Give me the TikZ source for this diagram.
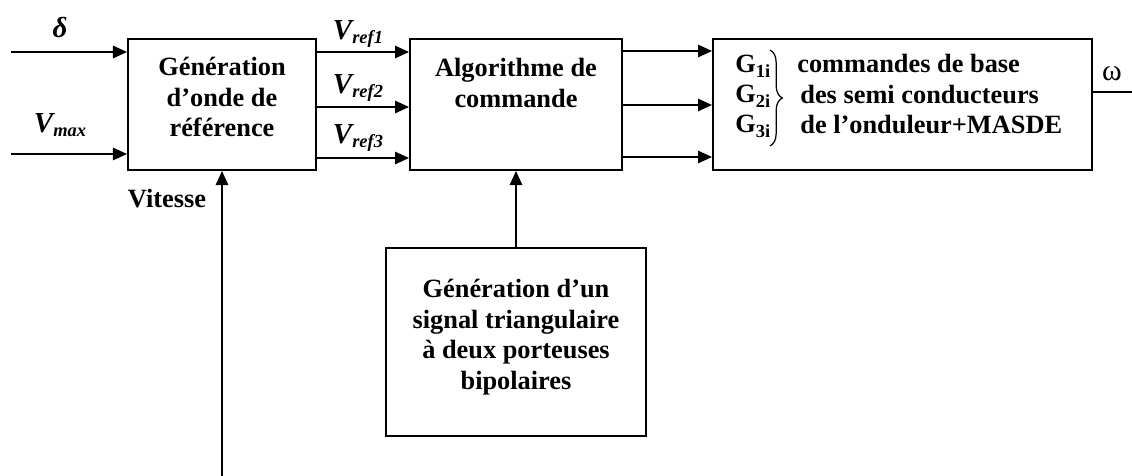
\documentclass[tikz,border=0pt]{standalone}
\usepackage{fontspec}
\setmainfont{Liberation Serif}
\usetikzlibrary{arrows.meta,positioning,decorations.pathreplacing}
\newcommand{\bsub}[1]{\raisebox{-0.35ex}{\fontsize{10.5}{10.5}\selectfont #1}}
\tikzset{
  block/.style={draw,line width=1.1pt,align=center,inner sep=0pt,
    font=\bfseries\fontsize{15}{17.4}\selectfont},
  blocktext/.style={align=center,inner sep=0pt,
    font=\bfseries\fontsize{15}{17.4}\selectfont},
  gatetext/.style={anchor=base west,inner sep=0pt,
    font=\bfseries\fontsize{15}{17.4}\selectfont},
  siglabel/.style={inner sep=0pt,font=\bfseries\itshape\fontsize{16.5}{18}\selectfont},
  sig/.style={line width=1.1pt,-{Triangle[length=8pt,width=7pt]}},
  wire/.style={line width=1.1pt},
  gbrace/.style={line width=0.7pt,decorate,decoration={brace,amplitude=7pt}}
}
\begin{document}
\begin{tikzpicture}[x=0.02cm,y=-0.02cm]
  \useasboundingbox (0,0) rectangle (1132,476);

  % blocks
  \node[block,minimum width=3.76cm,minimum height=2.62cm] (gen) at (222,104.5) {};
  \node[blocktext] (gentext) at (222,97) {Génération\\d’onde de\\référence};
  \node[block,minimum width=4.24cm,minimum height=2.62cm] (alg) at (516,104.5) {};
  \node[blocktext] (algtext) at (516,83) {Algorithme de\\commande};
  \node[block,minimum width=7.58cm,minimum height=2.62cm] (cmd) at (902.5,104.5) {};
  \node[block,minimum width=5.2cm,minimum height=3.76cm] (tri) at (516,342) {};
  \node[blocktext] (tritext) at (516,337)
    {Génération d’un\\signal triangulaire\\à deux porteuses\\bipolaires};

  % inputs
  \coordinate (din) at (11,52);
  \coordinate (vin) at (11,154);
  \draw[sig] (din) -- (gen.west |- din);
  \draw[sig] (vin) -- (gen.west |- vin);
  \node[siglabel] (delta) at (60,28) {δ};
  \node[siglabel] (vmax) at (60,125) {V\bsub{max}};

  % references
  \coordinate (r1) at (316,52);
  \coordinate (r2) at (316,107);
  \coordinate (r3) at (316,158);
  \draw[sig] (r1) -- (alg.west |- r1);
  \draw[sig] (r2) -- (alg.west |- r2);
  \draw[sig] (r3) -- (alg.west |- r3);
  \node[siglabel] (vref1) at (358,34) {V\bsub{ref1}};
  \node[siglabel] (vref2) at (358,88) {V\bsub{ref2}};
  \node[siglabel] (vref3) at (358,138) {V\bsub{ref3}};

  % gate signals
  \coordinate (g1) at (622,51);
  \coordinate (g2) at (622,105);
  \coordinate (g3) at (622,157);
  \draw[sig] (g1) -- (cmd.west |- g1);
  \draw[sig] (g2) -- (cmd.west |- g2);
  \draw[sig] (g3) -- (cmd.west |- g3);

  % speed and carrier
  \coordinate (vit) at (222,476);
  \draw[sig] (vit) -- (gen.south);
  \node[blocktext] (vitesse) at (167,199) {Vitesse};
  \draw[sig] (tri.north) -- (alg.south);

  % output
  \coordinate (omega) at (1132,92);
  \draw[wire] (cmd.east |- omega) -- (omega);
  \node[inner sep=0pt,font=\fontsize{17}{19}\selectfont] (w) at (1112,74) {ω};

  % block content
  \node[gatetext] (G1) at (735,73) {G\bsub{1i}};
  \node[gatetext] (G2) at (735,103) {G\bsub{2i}};
  \node[gatetext] (G3) at (735,133) {G\bsub{3i}};
  \draw[gbrace] (770,50) -- (770,146);
  \node[gatetext] (t1) at (797,73) {commandes de base};
  \node[gatetext] (t2) at (800,104) {des semi conducteurs};
  \node[gatetext] (t3) at (800,134) {de l’onduleur+MASDE};
\end{tikzpicture}
\end{document}
